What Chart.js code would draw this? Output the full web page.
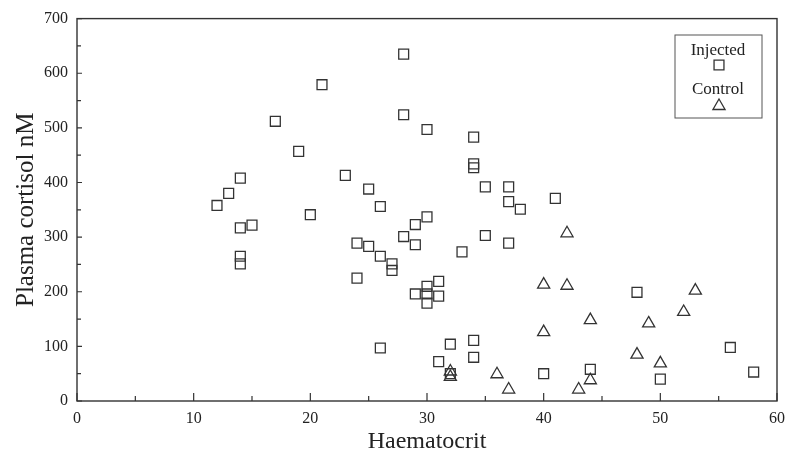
<!DOCTYPE html>
<html>
<head>
<meta charset="utf-8">
<script src="https://cdn.jsdelivr.net/npm/chart.js@4.4.1/dist/chart.umd.min.js"></script>
<style>
html,body{margin:0;padding:0;background:#fff;}
#wrap{width:793px;height:456px;}
</style>
</head>
<body>
<div id="wrap"><canvas id="c" width="793" height="456"></canvas></div>
<script>
// Injected (squares)
const injectedX = [12,13,14,14,14,14,15,17,19,20,21,23,24,24,25,25,26,26,26,27,27,28,28,28,29,29,29,30,30,30,30,30,31,31,31,32,32,33,34,34,34,34,34,35,35,37,37,37,38,40,41,44,48,50,56,58];
const injectedY = [358,380,408,317,265,251,322,512,457,341,579,413,289,225,388,283,356,265,97,251,239,635,524,301,323,286,196,497,337,210,196,179,219,192,72,104,50,273,483,434,427,111,80,392,303,392,365,289,351,50,371,58,199,40,98,53];
// Control (triangles)
const controlX = [32,32,36,37,40,40,42,42,43,44,44,48,49,50,52,53];
const controlY = [54,44,49,21,213,126,307,211,21,148,38,85,142,69,163,202];

const xTicks = [0,10,20,30,40,50,60];
const yTicks = [0,100,200,300,400,500,600,700];
const seriesNames = ['Injected','Control'];

const toPts = (xs, ys) => xs.map((x, i) => ({x: x, y: ys[i]}));
const ink = '#333';
const serif = "'Liberation Serif', 'DejaVu Serif', serif";

const frameAndTicks = {
  id: 'frameAndTicks',
  afterDraw(chart) {
    const {ctx, chartArea: a, scales: {x, y}} = chart;
    ctx.save();
    ctx.strokeStyle = ink;
    ctx.lineWidth = 1.4;
    ctx.strokeRect(a.left, a.top, a.right - a.left, a.bottom - a.top);
    ctx.lineWidth = 1.2;
    ctx.beginPath();
    for (let v = 0; v <= 60; v += 5) {
      const px = x.getPixelForValue(v);
      const len = v % 10 === 0 ? 8 : 5;
      ctx.moveTo(px, a.bottom); ctx.lineTo(px, a.bottom - len);
    }
    for (let v = 0; v <= 700; v += 50) {
      const py = y.getPixelForValue(v);
      const len = v % 100 === 0 ? 5 : 4;
      ctx.moveTo(a.left, py); ctx.lineTo(a.left + len, py);
    }
    ctx.stroke();
    // legend box
    const bx = 675, by = 35, bw = 87, bh = 83;
    ctx.lineWidth = 1;
    ctx.strokeStyle = '#555';
    ctx.strokeRect(bx, by, bw, bh);
    ctx.fillStyle = '#222';
    ctx.font = "17px " + serif;
    ctx.textAlign = 'center';
    ctx.textBaseline = 'middle';
    ctx.fillText(seriesNames[0], 718, 51);
    ctx.fillText(seriesNames[1], 718, 90);
    ctx.lineWidth = 1.3;
    ctx.strokeStyle = ink;
    ctx.fillStyle = 'rgba(0,0,0,0)';
    Chart.helpers.drawPoint(ctx, {pointStyle: 'rect', radius: 7, borderWidth: 1.3}, 719, 65);
    Chart.helpers.drawPoint(ctx, {pointStyle: 'triangle', radius: 7, borderWidth: 1.3}, 719, 106);
    ctx.restore();
  }
};

new Chart(document.getElementById('c'), {
  type: 'scatter',
  data: {
    datasets: [
      {label: seriesNames[0], data: toPts(injectedX, injectedY), pointStyle: 'rect', pointRadius: 7, pointHoverRadius: 7,
       borderColor: ink, backgroundColor: 'rgba(0,0,0,0)', borderWidth: 1.3},
      {label: seriesNames[1], data: toPts(controlX, controlY), pointStyle: 'triangle', pointRadius: 7, pointHoverRadius: 7,
       borderColor: ink, backgroundColor: 'rgba(0,0,0,0)', borderWidth: 1.3}
    ]
  },
  options: {
    responsive: false,
    animation: false,
    events: [],
    layout: {padding: {left: 0, right: 15, top: 17, bottom: 0}},
    plugins: {legend: {display: false}, tooltip: {enabled: false}},
    scales: {
      x: {
        type: 'linear', min: 0, max: 60,
        afterBuildTicks: s => { s.ticks = xTicks.map(v => ({value: v})); },
        afterFit: s => { s.height = 55; },
        grid: {display: false, drawTicks: false},
        border: {display: false},
        ticks: {color: '#222', font: {family: serif, size: 16}, padding: 8, maxRotation: 0},
        title: {display: true, text: 'Haematocrit', color: '#222', font: {family: serif, size: 24}, padding: {top: 0, bottom: 0}}
      },
      y: {
        type: 'linear', min: 0, max: 700,
        afterBuildTicks: s => { s.ticks = yTicks.map(v => ({value: v})); },
        afterFit: s => { s.width = 77; },
        grid: {display: false, drawTicks: false},
        border: {display: false},
        ticks: {color: '#222', font: {family: serif, size: 16}, padding: 9},
        title: {display: true, text: 'Plasma cortisol nM', color: '#222', font: {family: serif, size: 25}, padding: {top: 11, bottom: 0}}
      }
    }
  },
  plugins: [frameAndTicks]
});
</script>
</body>
</html>
